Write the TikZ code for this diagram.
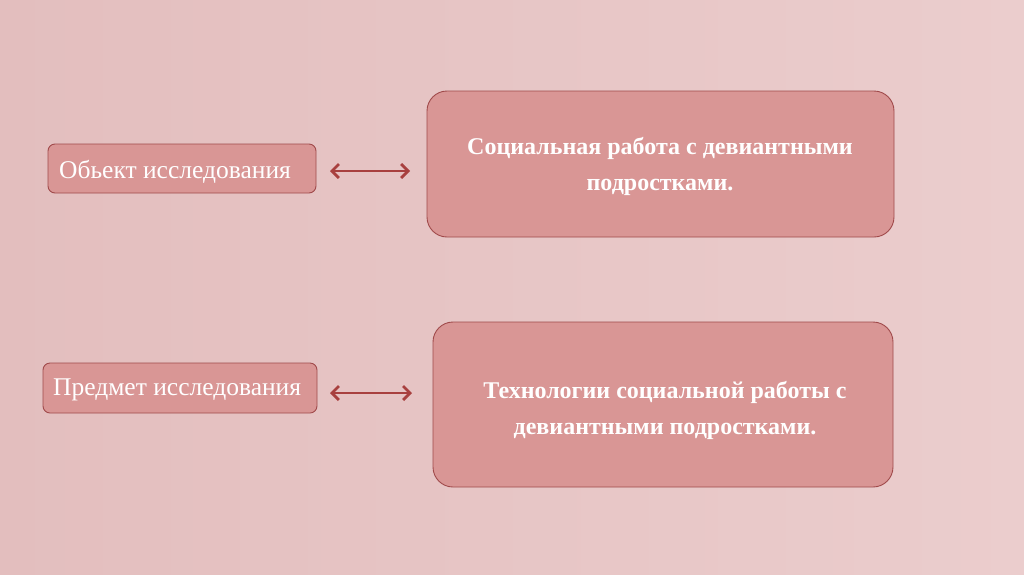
\documentclass[tikz,border=0pt]{standalone}
\usepackage{fontspec}
\setmainfont{Liberation Serif}
\usetikzlibrary{arrows.meta}
\definecolor{bgA}{HTML}{E3BEBE}
\definecolor{bgB}{HTML}{EBCDCD}
\definecolor{boxfill}{HTML}{D99695}
\definecolor{boxline}{HTML}{A04A4B}
\definecolor{arr}{HTML}{A8403F}
\begin{document}
\begin{tikzpicture}[x=1pt,y=-1pt,
  smallbox/.style={draw=boxline, line width=0.9pt, fill=boxfill, rounded corners=7pt},
  smalltext/.style={text=white, anchor=west, inner sep=0pt, font=\fontsize{25.5}{30}\selectfont},
  bigbox/.style={draw=boxline, line width=0.9pt, fill=boxfill, rounded corners=20pt},
  bigtext/.style={text=white, align=center, font=\bfseries\fontsize{24}{36}\selectfont},
  link/.style={draw=arr, line width=2.8pt, {Straight Barb[length=7pt,width=14pt]}-{Straight Barb[length=7pt,width=14pt]}}]
\useasboundingbox (0,0) rectangle (1024,574);
\shade[left color=bgA, right color=bgB] (0,0) rectangle (1024,574);
% boxes
\draw[smallbox] (48,144) rectangle (316,193);
\node[smalltext] (a) at (59,172) {Обьект исследования};
\draw[bigbox] (427,91) rectangle (894,237);
\node[bigtext] (b) at (660,166) {Социальная работа с девиантными\\подростками.};
\draw[smallbox] (43,363) rectangle (317,413);
\node[smalltext] (c) at (53,390) {Предмет исследования};
\draw[bigbox] (433,322) rectangle (893,487);
\node[bigtext] (d) at (665,410) {Технологии социальной работы с\\девиантными подростками.};
% arrows
\coordinate (a1) at (330,171);
\coordinate (a2) at (410,171);
\coordinate (c1) at (330,393);
\coordinate (c2) at (412,393);
\draw[link] (a1) -- (a2);
\draw[link] (c1) -- (c2);
\end{tikzpicture}
\end{document}
